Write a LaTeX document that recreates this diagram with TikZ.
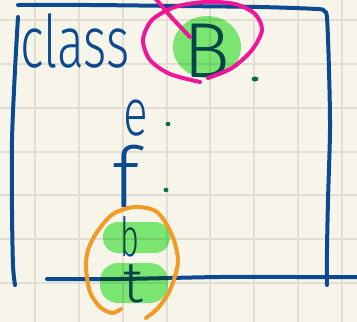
\documentclass[tikz,border=0pt]{standalone}
\usepackage{fontspec}
\newfontfamily\handfont{Fira Sans Light}
\definecolor{paper}{HTML}{F7F5EA}
\definecolor{gridln}{HTML}{E1DED2}
\definecolor{inkblue}{HTML}{0B4A90}
\definecolor{hlgreen}{HTML}{7EF07C}
\definecolor{penpink}{HTML}{F0169A}
\definecolor{penorange}{HTML}{F29A26}
\definecolor{dotgreen}{HTML}{0B6B4F}
\tikzset{
  ink/.style={inkblue,line width=4pt,line cap=round,line join=round},
  glow/.style={hlgreen,blend mode=multiply},
  pinkpen/.style={penpink,line width=4pt,line cap=round,line join=round},
  orangepen/.style={penorange,line width=4pt,line cap=round,line join=round},
  letter/.style={inkblue,inner sep=0pt,anchor=base},
}
\begin{document}
\begin{tikzpicture}[x=1pt,y=-1pt]
\useasboundingbox (0,0) rectangle (357,322);
\clip (0,0) rectangle (357,322);
% paper with grid
\fill[paper] (0,0) rectangle (357,322);
\foreach \gx in {35,79,123,167,210,254,298,342}
  \draw[gridln,line width=1.2pt] (\gx,0) -- (\gx,322);
\foreach \gy in {20,64,108,152,195,239,283}
  \draw[gridln,line width=1.2pt] (0,\gy) -- (357,\gy);
% class box
\draw[ink] plot[smooth] coordinates {(18,5) (90,5) (180,6) (260,7) (317,9) (324,11) (327,18) (329,70) (330,130) (328,200) (327,250) (327,285)};
\draw[ink] plot[smooth] coordinates {(18,17) (15,70) (12,140) (12,210) (13,265) (15,285)};
\draw[ink] plot[smooth] coordinates {(47,279) (120,279) (220,277) (300,277) (357,277)};
% texts
\node[letter,font=\handfont\fontsize{50}{50}\selectfont,yscale=1.45,anchor=base west] (cls) at (20,67) {class};
\node[letter,font=\handfont\fontsize{78}{78}\selectfont] (nameB) at (207,77) {B};
\node[letter,font=\handfont\fontsize{46}{46}\selectfont,yscale=1.45] (fe) at (136,135) {e};
\node[letter,font=\handfont\fontsize{84}{84}\selectfont] (ff) at (126,207) {f};
\node[letter,font=\handfont\fontsize{54}{54}\selectfont,xscale=.6] (fb) at (130,256) {b};
\node[letter,font=\handfont\fontsize{58}{58}\selectfont] (ft) at (133,302) {t};
% highlights
\fill[glow] (207,47) ellipse [x radius=34, y radius=31];
\fill[glow,rounded corners=15pt] (103,222) rectangle (170,253);
\fill[glow,rounded corners=18pt] (100,263) rectangle (168,303);
% circle round B
\draw[pinkpen] plot[smooth] coordinates {(200,82) (170,74) (150,60) (143,40) (152,20) (175,7) (205,2) (235,4) (255,14) (262,30) (252,50) (232,68) (208,78)};
\draw[pinkpen] (155,-2) -- (172,18) -- (190,37);
% loop round b and t
\draw[orangepen] plot[smooth] coordinates {(121,309) (112,313) (100,307) (90,292) (86,268) (88,250) (97,232) (113,214) (135,207) (157,212) (172,235) (178,262) (170,290) (158,308) (146,318)};
% dots
\fill[dotgreen] (255,79) ellipse [x radius=3.5, y radius=2.5];
\fill[dotgreen] (168,124) ellipse [x radius=2.5, y radius=2.2];
\fill[dotgreen] (166,190) ellipse [x radius=2.5, y radius=2.2];
\end{tikzpicture}
\end{document}
